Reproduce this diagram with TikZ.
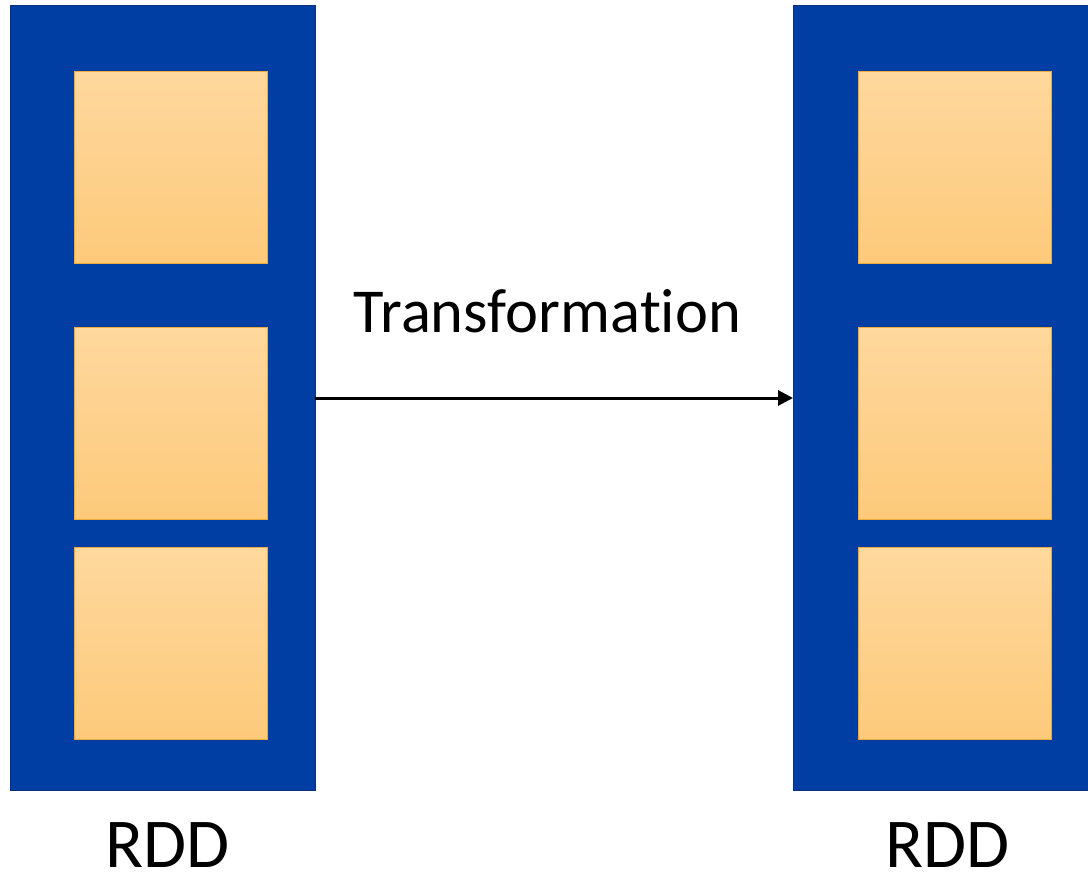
\documentclass[tikz,border=0pt]{standalone}
\usepackage{fontspec}
\setmainfont{Carlito}[Ligatures=NoCommon]
\usetikzlibrary{arrows.meta}
\definecolor{rddblue}{RGB}{0,62,163}
\definecolor{rddedge}{RGB}{10,48,130}
\definecolor{parttop}{RGB}{254,216,158}
\definecolor{partbot}{RGB}{253,202,122}
\definecolor{partedge}{RGB}{240,170,60}
\tikzset{
  rdd/.style={draw=rddedge, line width=1pt, fill=rddblue, inner sep=0pt, outer sep=0pt,
    minimum width=305pt, minimum height=785pt},
  part/.style={draw=partedge, line width=1pt, top color=parttop, bottom color=partbot,
    inner sep=0pt, outer sep=0pt, minimum width=193pt, minimum height=192pt},
  lbl/.style={inner sep=0pt, anchor=base, font=\fontsize{70}{84}\selectfont},
  flow/.style={line width=3pt, -{Triangle[length=15pt,width=15pt]}}
}
\begin{document}
\begin{tikzpicture}[x=1pt, y=-1pt]
  \useasboundingbox (0,0) rectangle (1088,878);
  % two RDD containers
  \node[rdd] (rddA) at (162.5,398) {};
  \node[rdd] (rddB) at (945.5,398) {};
  % partitions of the first RDD
  \node[part] (a1) at (171,167) {};
  \node[part] (a2) at (171,423) {};
  \node[part] (a3) at (171,643) {};
  % partitions of the second RDD
  \node[part] (b1) at (955,167) {};
  \node[part] (b2) at (955,423) {};
  \node[part] (b3) at (955,643) {};
  % labels
  \node[lbl] (la) at (167.5,867) {RDD};
  \node[lbl] (lb) at (947.5,867) {RDD};
  \node[lbl, font=\fontsize{62.5}{75}\selectfont] (tr) at (547.5,332) {Transforma\kern0pt tion};
  % transformation arrow
  \draw[flow] (rddA.east) -- (rddB.west);
\end{tikzpicture}
\end{document}
